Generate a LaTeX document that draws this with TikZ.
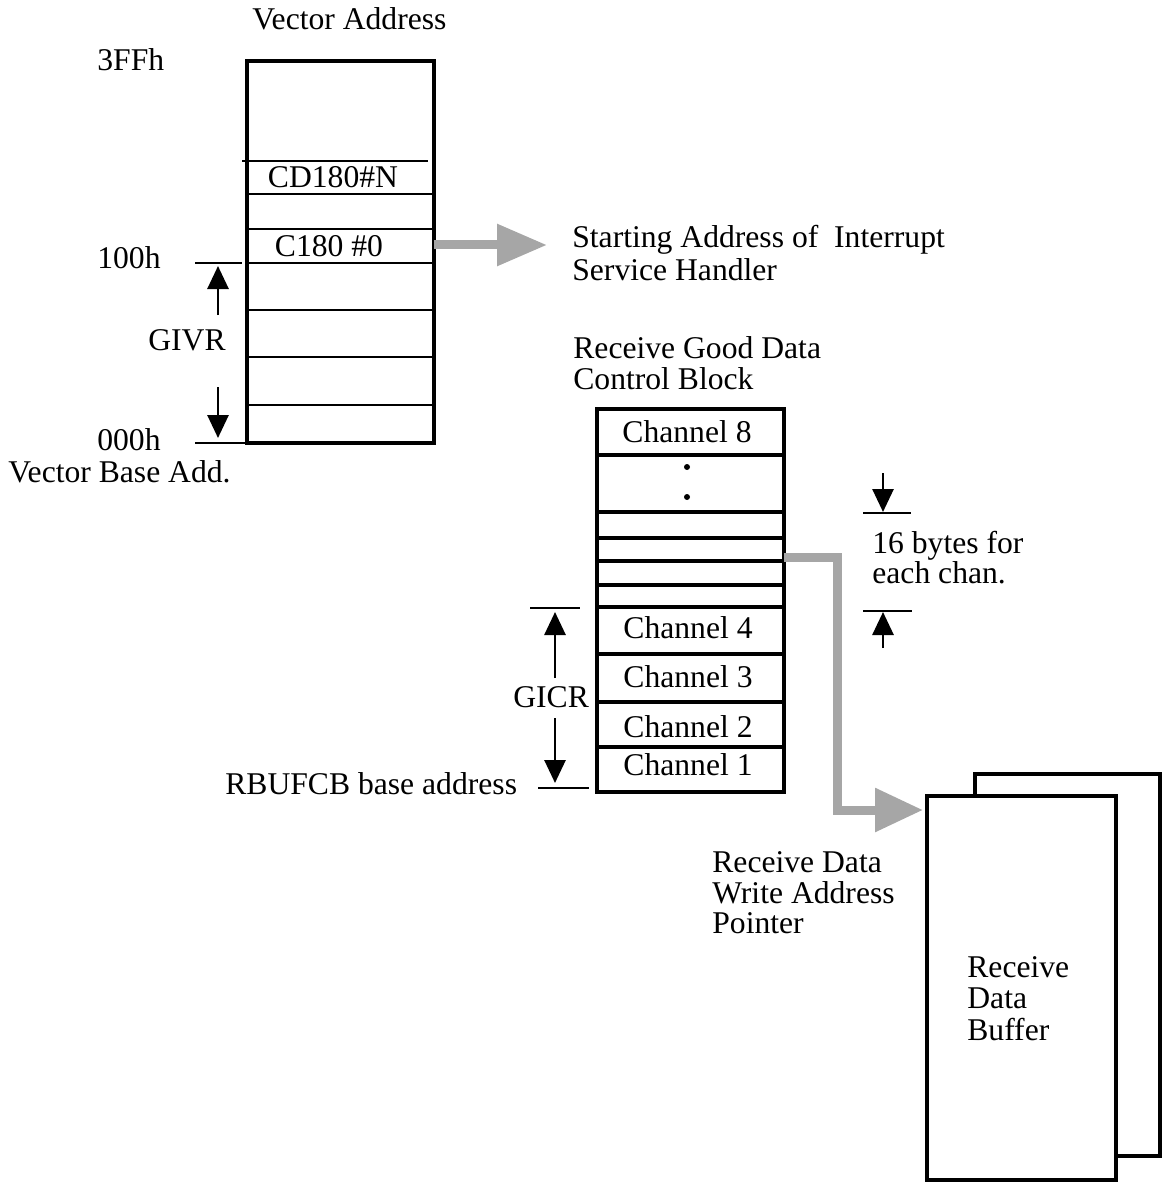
\documentclass[tikz,border=0pt]{standalone}
\usepackage{fontspec}
\setmainfont{Liberation Serif}
\usetikzlibrary{arrows.meta}
\begin{document}
\begin{tikzpicture}[x=0.2mm,y=-0.2mm,
  lbl/.style={font=\fontsize{18}{18}\selectfont, inner sep=0pt, anchor=base west},
  clbl/.style={font=\fontsize{18}{18}\selectfont, inner sep=0pt, anchor=base},
  outer/.style={draw, line width=0.9mm, inner sep=0pt, fill=white},
  rowline/.style={line width=0.45mm},
  chline/.style={line width=0.7mm},
  tickline/.style={line width=0.5mm},
  dimarrow/.style={line width=0.55mm, -{Triangle[length=4.6mm,width=4.2mm]}},
  shadearrow/.style={draw=gray!70, line width=1.8mm, line join=miter}
]
\useasboundingbox (0,0) rectangle (1163,1184);

% ---------- Vector address table ----------
\node[outer, minimum width=37.4mm, minimum height=76.4mm] (vt) at (340.5,252) {};
\draw[rowline] (242,161) -- (428,161);
\foreach \yy in {194,229,263,310,357,405}
  \draw[rowline] (247,\yy) -- (434,\yy);
\node[lbl] (va) at (252,30) {Vector Address};
\node[clbl] (cdn) at (333,188) {CD180\#N};
\node[clbl] (c0) at (329,257) {C180 \#0};
\node[lbl] (l3ff) at (97,71) {3FFh};
\node[lbl] (l100) at (97,269) {100h};
\node[lbl] (l000) at (97,450) {000h};
\node[lbl] (vba) at (8,482) {Vector Base Add.};
\node[lbl] (givr) at (148,350) {GIVR};

\coordinate (t100a) at (195,263);
\coordinate (t100b) at (242,263);
\coordinate (t000a) at (195,443);
\coordinate (t000b) at (245,443);
\draw[tickline] (t100a) -- (t100b);
\draw[tickline] (t000a) -- (t000b);
\coordinate (gvu0) at (218,315);
\coordinate (gvu1) at (218,266);
\coordinate (gvd0) at (218,387);
\coordinate (gvd1) at (218,438);
\draw[dimarrow] (gvu0) -- (gvu1);
\draw[dimarrow] (gvd0) -- (gvd1);

% ---------- arrow to handler ----------
\node[lbl] (sa1) at (572,248) {Starting Address of\ \ Interrupt};
\node[lbl] (sa2) at (572,280) {Service Handler};
\coordinate (c0e) at (434,245);
\coordinate (sah) at (547,245);
\draw[shadearrow, -{Triangle[length=10mm,width=8mm]}] (c0e) -- (sah);

% ---------- Channel control block ----------
\node[lbl] (rg1) at (573,358) {Receive Good Data};
\node[lbl] (rg2) at (573,389) {Control Block};
\node[outer, minimum width=37.4mm, minimum height=76.6mm] (cb) at (690.5,600.5) {};
\foreach \yy in {455,512,538,561,585,607,654,702,747}
  \draw[chline] (597,\yy) -- (784,\yy);
\node[clbl] (ch8) at (687,442) {Channel 8};
\fill (687,467) circle (0.6mm);
\fill (687,497) circle (0.6mm);
\node[clbl] (ch4) at (688,638) {Channel 4};
\node[clbl] (ch3) at (688,687) {Channel 3};
\node[clbl] (ch2) at (688,737) {Channel 2};
\node[clbl] (ch1) at (688,775) {Channel 1};

\node[lbl] (gicr) at (513,707) {GICR};
\coordinate (tg1a) at (530,608);
\coordinate (tg1b) at (580,608);
\coordinate (tg2a) at (538,788);
\coordinate (tg2b) at (589,788);
\draw[tickline] (tg1a) -- (tg1b);
\draw[tickline] (tg2a) -- (tg2b);
\coordinate (gcu0) at (555,678);
\coordinate (gcu1) at (555,612);
\coordinate (gcd0) at (555,718);
\coordinate (gcd1) at (555,783);
\draw[dimarrow] (gcu0) -- (gcu1);
\draw[dimarrow] (gcd0) -- (gcd1);
\node[lbl] (rb) at (225,794) {RBUFCB base address};

% ---------- 16 bytes ----------
\node[lbl] (sb1) at (872,553) {16 bytes for};
\node[lbl] (sb2) at (872,583) {each chan.};
\coordinate (s1a) at (863,513);
\coordinate (s1b) at (911,513);
\coordinate (s2a) at (863,611);
\coordinate (s2b) at (912,611);
\draw[tickline] (s1a) -- (s1b);
\draw[tickline] (s2a) -- (s2b);
\coordinate (sd0) at (883,473);
\coordinate (sd1) at (883,512);
\coordinate (su0) at (883,648);
\coordinate (su1) at (883,612);
\draw[dimarrow] (sd0) -- (sd1);
\draw[dimarrow] (su0) -- (su1);

% ---------- Buffers ----------
\node[outer, minimum width=37mm, minimum height=76.4mm] (bufback) at (1067.5,965) {};
\node[outer, minimum width=37.8mm, minimum height=76.8mm] (buf) at (1021.5,988) {};
\node[lbl] (rdb1) at (967,977) {Receive};
\node[lbl] (rdb2) at (967,1008) {Data};
\node[lbl] (rdb3) at (967,1040) {Buffer};

\node[lbl] (rw1) at (712,872) {Receive Data};
\node[lbl] (rw2) at (712,903) {Write Address};
\node[lbl] (rw3) at (712,933) {Pointer};

\coordinate (cbp) at (784,557);
\coordinate (bp) at (923,810);
\draw[shadearrow, -{Triangle[length=9.6mm,width=8.4mm]}] (cbp) -- (837,557) -- (837,810) -- (bp);
\end{tikzpicture}
\end{document}
